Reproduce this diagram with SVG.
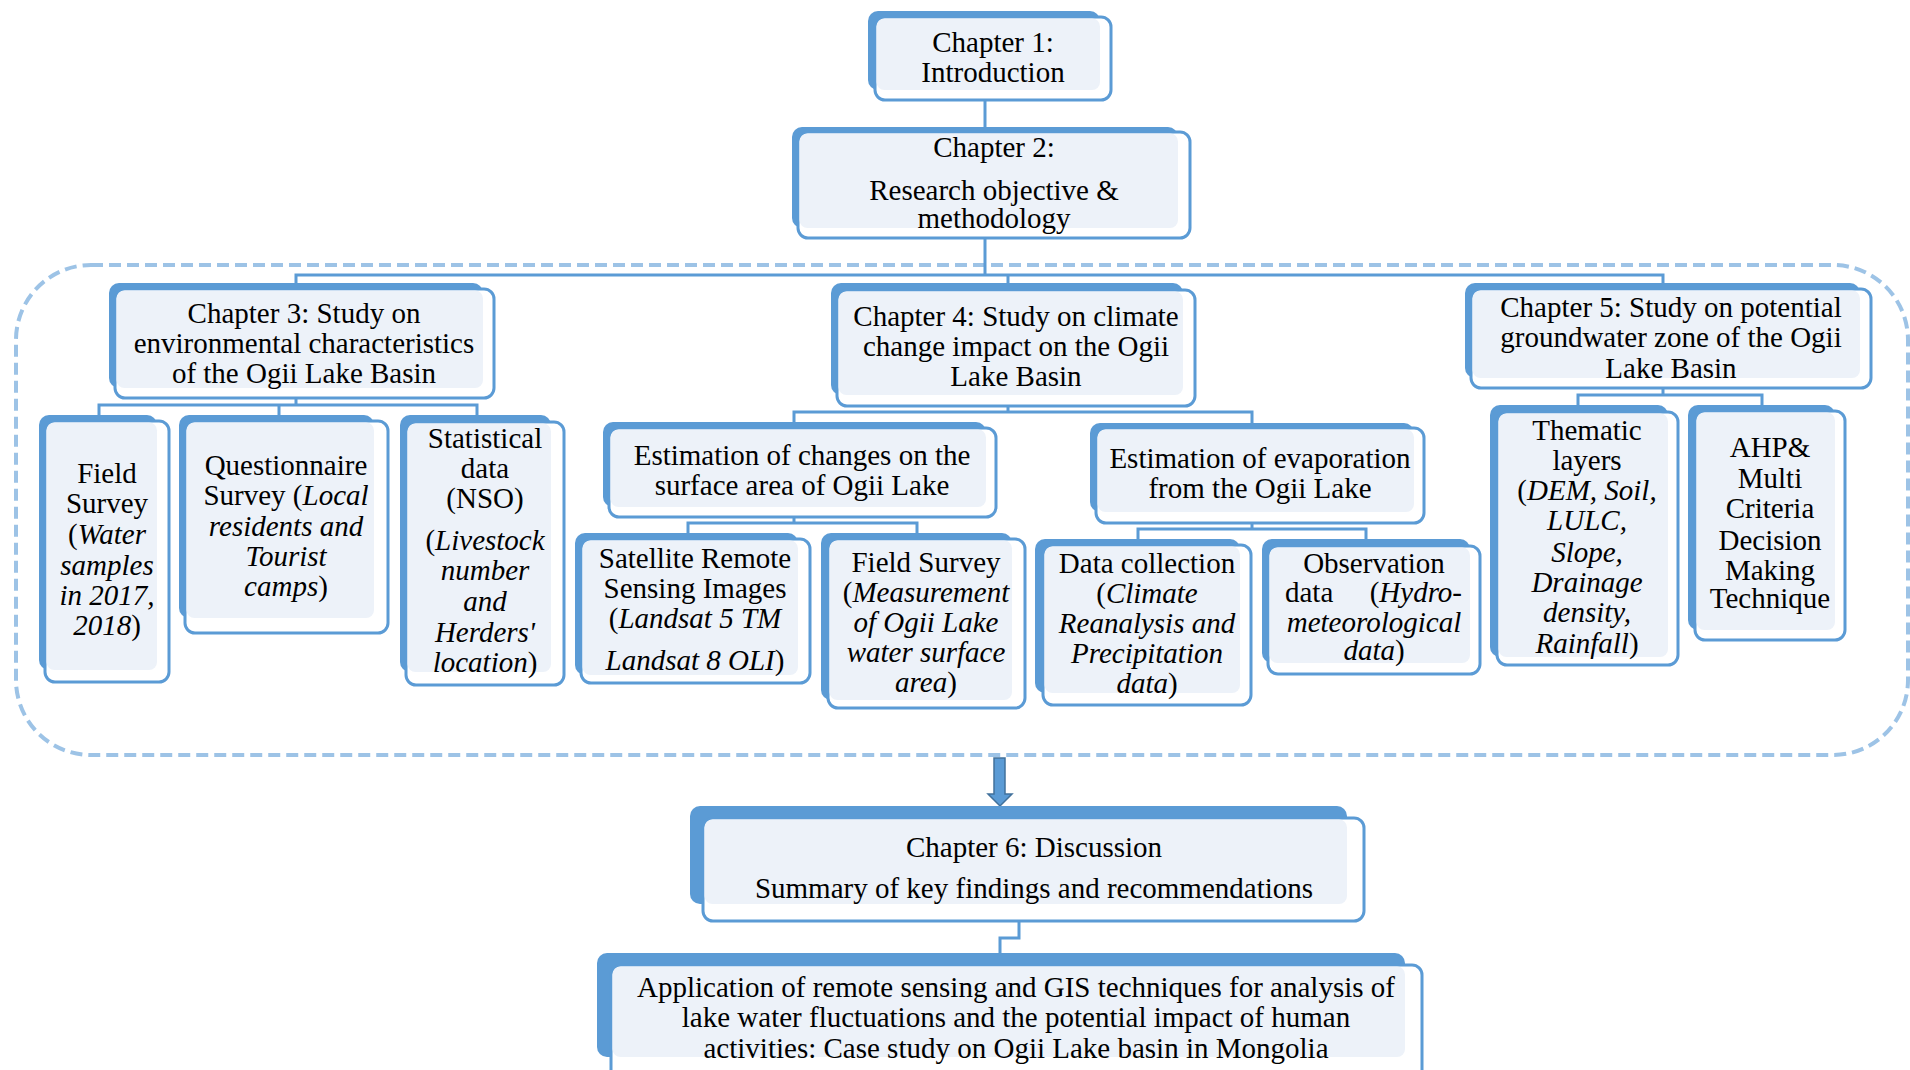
<svg xmlns="http://www.w3.org/2000/svg" width="1910" height="1070" viewBox="0 0 1910 1070">
<style>
.bk{fill:#5b9bd5}
.fr{fill:#ffffff;stroke:#5b9bd5;stroke-width:3}
.lt{fill:#edf2f9}
.cn{fill:none;stroke:#5b9bd5;stroke-width:3}
text{font-family:"Liberation Serif","Times New Roman",serif;font-size:29px;fill:#000;text-anchor:middle}
.i{font-style:italic}
</style>
<rect width="1910" height="1070" fill="#ffffff"/>
<rect x="16" y="265" width="1892" height="490" rx="75" ry="75" fill="none" stroke="#9dc3e6" stroke-width="4" stroke-dasharray="12 6"/>
<g id="connectors">
<path class="cn" d="M985 100V132"/>
<path class="cn" d="M985 238V275M296 283V275H1663V283M1008 275V283"/>
<path class="cn" d="M296 398V405M99 415V405H477V415M279 405V415"/>
<path class="cn" d="M1008 406V412M794 422V412H1252V423"/>
<path class="cn" d="M794 517V523M688 533V523H917V533"/>
<path class="cn" d="M1252 523V529M1138 539V529H1366V539"/>
<path class="cn" d="M1663 388V395M1578 405V395H1762V405"/>
<path class="cn" d="M1019 921V938H1000V953"/>
<polygon points="994,758 1005,758 1005,794 1012,794 1000,806 988,794 994,794" fill="#5b9bd5" stroke="#41719c" stroke-width="1.5"/>
</g>
<g id="ch1">
<rect class="bk" x="868" y="11" width="232" height="79" rx="10"/>
<rect class="fr" x="875" y="17" width="236" height="83" rx="10"/>
<rect class="lt" x="876.5" y="18.5" width="223.5" height="71.5" rx="8"/>
<text x="993" y="52">Chapter 1:</text>
<text x="993" y="82">Introduction</text>
</g>
<g id="ch2">
<rect class="bk" x="792" y="127" width="386" height="101" rx="10"/>
<rect class="fr" x="798" y="132" width="392" height="106" rx="10"/>
<rect class="lt" x="799.5" y="133.5" width="378.5" height="94.5" rx="8"/>
<text x="994" y="157">Chapter 2:</text>
<text x="994" y="200">Research objective &amp;</text>
<text x="994" y="228">methodology</text>
</g>
<g id="ch3">
<rect class="bk" x="109" y="283" width="374" height="105" rx="10"/>
<rect class="fr" x="115" y="289" width="379" height="109" rx="10"/>
<rect class="lt" x="116.5" y="290.5" width="366.5" height="97.5" rx="8"/>
<text x="304" y="323">Chapter 3: Study on</text>
<text x="304" y="353">environmental characteristics</text>
<text x="304" y="383">of the Ogii Lake Basin</text>
</g>
<g id="ch4">
<rect class="bk" x="831" y="283" width="352" height="112" rx="10"/>
<rect class="fr" x="837" y="290" width="358" height="116" rx="10"/>
<rect class="lt" x="838.5" y="291.5" width="344.5" height="103.5" rx="8"/>
<text x="1016" y="326">Chapter 4: Study on climate</text>
<text x="1016" y="356">change impact on the Ogii</text>
<text x="1016" y="386">Lake Basin</text>
</g>
<g id="ch5">
<rect class="bk" x="1465" y="283" width="395" height="95" rx="10"/>
<rect class="fr" x="1471" y="289" width="400" height="99" rx="10"/>
<rect class="lt" x="1472.5" y="290.5" width="387.5" height="87.5" rx="8"/>
<text x="1671" y="317">Chapter 5: Study on potential</text>
<text x="1671" y="347">groundwater zone of the Ogii</text>
<text x="1671" y="378">Lake Basin</text>
</g>
<g id="fieldSurvey1">
<rect class="bk" x="39" y="415" width="118" height="255" rx="10"/>
<rect class="fr" x="45" y="421" width="124" height="261" rx="10"/>
<rect class="lt" x="46.5" y="422.5" width="110.5" height="247.5" rx="8"/>
<text x="107" y="483">Field</text>
<text x="107" y="513">Survey</text>
<text x="107" y="544">(<tspan class="i">Water</tspan></text>
<text x="107" y="575" class="i">samples</text>
<text x="107" y="605" class="i">in 2017,</text>
<text x="107" y="635"><tspan class="i">2018</tspan>)</text>
</g>
<g id="questionnaire">
<rect class="bk" x="179" y="415" width="195" height="203" rx="10"/>
<rect class="fr" x="185" y="421" width="203" height="212" rx="10"/>
<rect class="lt" x="186.5" y="422.5" width="187.5" height="195.5" rx="8"/>
<text x="286" y="475">Questionnaire</text>
<text x="286" y="505">Survey (<tspan class="i">Local</tspan></text>
<text x="286" y="536" class="i">residents and</text>
<text x="286" y="566" class="i">Tourist</text>
<text x="286" y="596"><tspan class="i">camps</tspan>)</text>
</g>
<g id="statistical">
<rect class="bk" x="400" y="415" width="151" height="257" rx="10"/>
<rect class="fr" x="406" y="422" width="158" height="263" rx="10"/>
<rect class="lt" x="407.5" y="423.5" width="143.5" height="248.5" rx="8"/>
<text x="485" y="448">Statistical</text>
<text x="485" y="478">data</text>
<text x="485" y="508">(NSO)</text>
<text x="485" y="550">(<tspan class="i">Livestock</tspan></text>
<text x="485" y="580" class="i">number</text>
<text x="485" y="611" class="i">and</text>
<text x="485" y="642" class="i">Herders'</text>
<text x="485" y="672"><tspan class="i">location</tspan>)</text>
</g>
<g id="estChanges">
<rect class="bk" x="603" y="422" width="383" height="85" rx="10"/>
<rect class="fr" x="609" y="428" width="387" height="89" rx="10"/>
<rect class="lt" x="610.5" y="429.5" width="375.5" height="77.5" rx="8"/>
<text x="802" y="465">Estimation of changes on the</text>
<text x="802" y="495">surface area of Ogii Lake</text>
</g>
<g id="estEvap">
<rect class="bk" x="1090" y="423" width="324" height="89" rx="10"/>
<rect class="fr" x="1096" y="428" width="328" height="95" rx="10"/>
<rect class="lt" x="1097.5" y="429.5" width="316.5" height="82.5" rx="8"/>
<text x="1260" y="468">Estimation of evaporation</text>
<text x="1260" y="498">from the Ogii Lake</text>
</g>
<g id="satellite">
<rect class="bk" x="575" y="533" width="223" height="142" rx="10"/>
<rect class="fr" x="581" y="539" width="229" height="144" rx="10"/>
<rect class="lt" x="582.5" y="540.5" width="215.5" height="134.5" rx="8"/>
<text x="695" y="568">Satellite Remote</text>
<text x="695" y="598">Sensing Images</text>
<text x="695" y="628">(<tspan class="i">Landsat 5 TM</tspan></text>
<text x="695" y="670"><tspan class="i">Landsat 8 OLI</tspan>)</text>
</g>
<g id="fieldSurvey2">
<rect class="bk" x="821" y="533" width="191" height="167" rx="10"/>
<rect class="fr" x="828" y="539" width="197" height="169" rx="10"/>
<rect class="lt" x="829.5" y="540.5" width="182.5" height="159.5" rx="8"/>
<text x="926" y="572">Field Survey</text>
<text x="926" y="602">(<tspan class="i">Measurement</tspan></text>
<text x="926" y="632" class="i">of Ogii Lake</text>
<text x="926" y="662" class="i">water surface</text>
<text x="926" y="692"><tspan class="i">area</tspan>)</text>
</g>
<g id="dataCollection">
<rect class="bk" x="1035" y="539" width="205" height="154" rx="10"/>
<rect class="fr" x="1043" y="545" width="208" height="160" rx="10"/>
<rect class="lt" x="1044.5" y="546.5" width="195.5" height="146.5" rx="8"/>
<text x="1147" y="573">Data collection</text>
<text x="1147" y="603">(<tspan class="i">Climate</tspan></text>
<text x="1147" y="633" class="i">Reanalysis and</text>
<text x="1147" y="663" class="i">Precipitation</text>
<text x="1147" y="693"><tspan class="i">data</tspan>)</text>
</g>
<g id="observation">
<rect class="bk" x="1262" y="539" width="208" height="124" rx="10"/>
<rect class="fr" x="1268" y="546" width="212" height="128" rx="10"/>
<rect class="lt" x="1269.5" y="547.5" width="200.5" height="115.5" rx="8"/>
<text x="1374" y="573">Observation</text>
<text x="1285" y="602" style="text-anchor:start">data</text>
<text x="1462" y="602" style="text-anchor:end">(<tspan class="i">Hydro-</tspan></text>
<text x="1374" y="632" class="i">meteorological</text>
<text x="1374" y="660"><tspan class="i">data</tspan>)</text>
</g>
<g id="thematic">
<rect class="bk" x="1490" y="405" width="178" height="252" rx="10"/>
<rect class="fr" x="1497" y="412" width="181" height="253" rx="10"/>
<rect class="lt" x="1498.5" y="413.5" width="169.5" height="243.5" rx="8"/>
<text x="1587" y="440">Thematic</text>
<text x="1587" y="470">layers</text>
<text x="1587" y="500">(<tspan class="i">DEM, Soil,</tspan></text>
<text x="1587" y="530" class="i">LULC,</text>
<text x="1587" y="562" class="i">Slope,</text>
<text x="1587" y="592" class="i">Drainage</text>
<text x="1587" y="622" class="i">density,</text>
<text x="1587" y="653"><tspan class="i">Rainfall</tspan>)</text>
</g>
<g id="ahp">
<rect class="bk" x="1688" y="405" width="147" height="225" rx="10"/>
<rect class="fr" x="1695" y="411" width="150" height="229" rx="10"/>
<rect class="lt" x="1696.5" y="412.5" width="138.5" height="217.5" rx="8"/>
<text x="1770" y="457">AHP&amp;</text>
<text x="1770" y="488">Multi</text>
<text x="1770" y="518">Criteria</text>
<text x="1770" y="550">Decision</text>
<text x="1770" y="580">Making</text>
<text x="1770" y="608">Technique</text>
</g>
<g id="ch6">
<rect class="bk" x="690" y="806" width="657" height="98" rx="10"/>
<rect class="fr" x="703" y="818" width="661" height="103" rx="10"/>
<rect class="lt" x="704.5" y="819.5" width="642.5" height="84.5" rx="8"/>
<text x="1034" y="857">Chapter 6: Discussion</text>
<text x="1034" y="898">Summary of key findings and recommendations</text>
</g>
<g id="final">
<rect class="bk" x="597" y="953" width="808" height="104" rx="10"/>
<rect class="fr" x="611" y="965" width="811" height="120" rx="10"/>
<rect class="lt" x="612.5" y="966.5" width="792.5" height="90.5" rx="8"/>
<text x="1016" y="997">Application of remote sensing and GIS techniques for analysis of</text>
<text x="1016" y="1027">lake water fluctuations and the potential impact of human</text>
<text x="1016" y="1058">activities: Case study on Ogii Lake basin in Mongolia</text>
</g>
</svg>
